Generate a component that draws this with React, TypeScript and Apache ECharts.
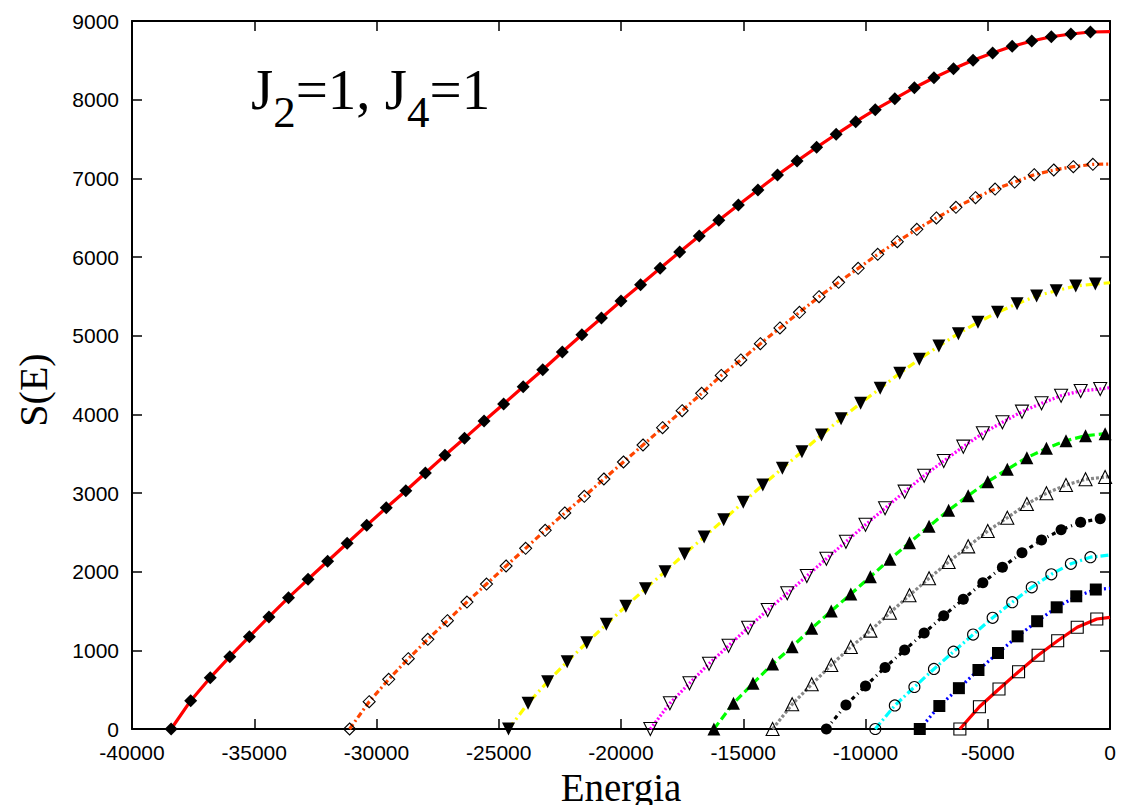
import React, { useEffect, useRef } from 'react';
import * as echarts from 'echarts';

// Energy (x) and entropy S(E) (y), one pair of arrays per curve.
const E1 = [-38400, -37600, -36800, -36000, -35200, -34400, -33600, -32800, -32000, -31200, -30400, -29600, -28800, -28000, -27200, -26400, -25600, -24800, -24000, -23200, -22400, -21600, -20800, -20000, -19200, -18400, -17600, -16800, -16000, -15200, -14400, -13600, -12800, -12000, -11200, -10400, -9600, -8800, -8000, -7200, -6400, -5600, -4800, -4000, -3200, -2400, -1600, -800, 0];
const S1 = [0, 360, 652, 919, 1173, 1424, 1669, 1903, 2132, 2361, 2589, 2813, 3029, 3254, 3479, 3695, 3915, 4131, 4351, 4567, 4792, 5012, 5225, 5441, 5648, 5856, 6064, 6267, 6467, 6661, 6852, 7042, 7220, 7394, 7560, 7720, 7873, 8012, 8152, 8279, 8394, 8500, 8593, 8678, 8746, 8800, 8835, 8860, 8865];

const E2 = [-31100, -30300, -29500, -28700, -27900, -27100, -26300, -25500, -24700, -23900, -23100, -22300, -21500, -20700, -19900, -19100, -18300, -17500, -16700, -15900, -15100, -14300, -13500, -12700, -11900, -11100, -10300, -9500, -8700, -7900, -7100, -6300, -5500, -4700, -3900, -3100, -2300, -1500, -700, 0];
const S2 = [0, 347, 632, 894, 1140, 1377, 1614, 1843, 2072, 2297, 2526, 2746, 2958, 3178, 3394, 3610, 3830, 4046, 4267, 4494, 4691, 4898, 5098, 5297, 5495, 5678, 5856, 6034, 6195, 6352, 6496, 6632, 6754, 6864, 6953, 7046, 7106, 7148, 7178, 7182];

const E3 = [-24600, -23800, -23000, -22200, -21400, -20600, -19800, -19000, -18200, -17400, -16600, -15800, -15000, -14200, -13400, -12600, -11800, -11000, -10200, -9400, -8600, -7800, -7000, -6200, -5400, -4600, -3800, -3000, -2200, -1400, -600, 0];
const S3 = [0, 327, 601, 856, 1097, 1331, 1560, 1784, 2000, 2225, 2441, 2661, 2882, 3102, 3314, 3525, 3737, 3945, 4140, 4331, 4522, 4700, 4869, 5025, 5170, 5297, 5406, 5504, 5572, 5631, 5657, 5673];

const E4 = [-18800, -18000, -17200, -16400, -15600, -14800, -14000, -13200, -12400, -11600, -10800, -10000, -9200, -8400, -7600, -6800, -6000, -5200, -4400, -3600, -2800, -2000, -1200, -400, 0];
const S4 = [0, 327, 581, 830, 1059, 1288, 1513, 1725, 1945, 2165, 2381, 2597, 2806, 3017, 3220, 3407, 3589, 3759, 3899, 4034, 4140, 4237, 4297, 4322, 4339];

const E5 = [-16200, -15400, -14600, -13800, -13000, -12200, -11400, -10600, -9800, -9000, -8200, -7400, -6600, -5800, -5000, -4200, -3400, -2600, -1800, -1000, -200, 0];
const S5 = [0, 327, 581, 826, 1046, 1280, 1500, 1716, 1936, 2157, 2368, 2577, 2780, 2966, 3144, 3301, 3449, 3568, 3665, 3728, 3754, 3756];

const E6 = [-13800, -13000, -12200, -11400, -10600, -9800, -9000, -8200, -7400, -6600, -5800, -5000, -4200, -3400, -2600, -1800, -1000, -200, 0];
const S6 = [0, 314, 568, 814, 1042, 1250, 1478, 1700, 1916, 2123, 2322, 2517, 2686, 2860, 2996, 3102, 3174, 3203, 3210];

const E7 = [-11600, -10800, -10000, -9200, -8400, -7600, -6800, -6000, -5200, -4400, -3600, -2800, -2000, -1200, -400, 0];
const S7 = [0, 305, 547, 782, 1004, 1220, 1439, 1650, 1860, 2057, 2241, 2403, 2532, 2628, 2673, 2685];

const E8 = [-9600, -8800, -8000, -7200, -6400, -5600, -4800, -4000, -3200, -2400, -1600, -800, 0];
const S8 = [0, 299, 534, 763, 983, 1201, 1414, 1612, 1801, 1967, 2100, 2184, 2212];

const E9 = [-7780, -6980, -6180, -5380, -4580, -3780, -2980, -2180, -1380, -580, 0];
const S9 = [0, 292, 519, 750, 966, 1178, 1370, 1547, 1687, 1773, 1789];

const E10 = [-6140, -5340, -4540, -3740, -2940, -2140, -1340, -540, 0];
const S10 = [0, 283, 508, 728, 937, 1122, 1293, 1398, 1420];

const X_TICKS = { min: -40000, max: 0, interval: 5000 };
const Y_TICKS = { min: 0, max: 9000, interval: 1000 };

const CURVES = [
  { E: E1, S: S1, color: '#ff0000', dash: 'solid', symbol: 'diamond', rotate: 0, filled: true, size: 13 },
  { E: E2, S: S2, color: '#ff4500', dash: [6, 3, 2, 3], symbol: 'diamond', rotate: 0, filled: false, size: 12 },
  { E: E3, S: S3, color: '#ffff00', dash: [8, 4, 2, 4], symbol: 'triangle', rotate: 180, filled: true, size: 13 },
  { E: E4, S: S4, color: '#ff00ff', dash: [2, 2], symbol: 'triangle', rotate: 180, filled: false, size: 13 },
  { E: E5, S: S5, color: '#00ff00', dash: [8, 4], symbol: 'triangle', rotate: 0, filled: true, size: 13 },
  { E: E6, S: S6, color: '#888888', dash: [3, 2], symbol: 'triangle', rotate: 0, filled: false, size: 13 },
  { E: E7, S: S7, color: '#000000', dash: [4, 4, 1, 4], symbol: 'circle', rotate: 0, filled: true, size: 11 },
  { E: E8, S: S8, color: '#00ffff', dash: [8, 3, 2, 3], symbol: 'circle', rotate: 0, filled: false, size: 11 },
  { E: E9, S: S9, color: '#0000ff', dash: [2, 3], symbol: 'rect', rotate: 0, filled: true, size: 12 },
  { E: E10, S: S10, color: '#ff0000', dash: 'solid', symbol: 'rect', rotate: 0, filled: false, size: 12 },
];

function buildSeries() {
  return CURVES.map((c) => ({
    type: 'line',
    xAxisIndex: 0,
    yAxisIndex: 0,
    smooth: false,
    silent: true,
    symbol: c.symbol,
    symbolSize: c.size,
    symbolRotate: c.rotate,
    showAllSymbol: true,
    lineStyle: { color: c.color, width: 3.2, type: c.dash as any },
    itemStyle: c.filled
      ? { color: '#000', borderWidth: 0 }
      : { color: 'rgba(0,0,0,0)', borderColor: '#000', borderWidth: 1.1 },
    emphasis: { disabled: true },
    data: c.E.map((e, i) =>
      e === 0 ? { value: [e, c.S[i]], symbol: 'none' } : [e, c.S[i]]
    ),
  }));
}

const tick = { show: true, inside: true, length: 10, lineStyle: { color: '#000', width: 1.5 } };
const line = { show: true, onZero: false, lineStyle: { color: '#000', width: 2 } };

export default function App() {
  const ref = useRef<HTMLDivElement>(null);
  useEffect(() => {
    const chart = echarts.init(ref.current!, null, { renderer: 'svg' });
    chart.setOption({
      animation: false,
      backgroundColor: '#ffffff',
      grid: { left: 132, right: 15, top: 21, bottom: 76, containLabel: false, outerBoundsMode: 'none' },
      xAxis: [
        {
          type: 'value', ...X_TICKS, position: 'bottom',
          axisLine: line, axisTick: tick, splitLine: { show: false },
          axisLabel: { color: '#000', fontSize: 21, fontFamily: 'Liberation Sans', margin: 13, formatter: (v: number) => String(v) },
          name: 'Energia', nameLocation: 'middle', nameGap: 36,
          nameTextStyle: { fontFamily: 'Liberation Serif', fontSize: 39, color: '#000' },
        },
        {
          type: 'value', ...X_TICKS, position: 'top',
          axisLine: line, axisTick: tick, splitLine: { show: false }, axisLabel: { show: false },
        },
      ],
      yAxis: [
        {
          type: 'value', ...Y_TICKS, position: 'left',
          axisLine: line, axisTick: tick, splitLine: { show: false },
          axisLabel: { color: '#000', fontSize: 21, fontFamily: 'Liberation Sans', margin: 13, formatter: (v: number) => String(v) },
        },
        {
          type: 'value', ...Y_TICKS, position: 'right',
          axisLine: line, axisTick: tick, splitLine: { show: false }, axisLabel: { show: false },
        },
      ],
      graphic: [
        {
          type: 'text', x: 33, y: 390, rotation: Math.PI / 2,
          style: { text: 'S(E)', fontFamily: 'Liberation Serif', fontSize: 40, fill: '#000', align: 'center', verticalAlign: 'middle' },
        },
        {
          type: 'text', x: 251, y: 58,
          style: {
            text: '{a|J}{b|2}{a|=1, J}{b|4}{a|=1}',
            rich: {
              a: { fontFamily: 'Liberation Serif', fontSize: 57, lineHeight: 62, fill: '#000' },
              b: { fontFamily: 'Liberation Serif', fontSize: 45, lineHeight: 46, padding: [46, 0, 0, 0], fill: '#000' },
            },
          },
        },
      ],
      series: buildSeries(),
    });
    return () => chart.dispose();
  }, []);
  return (
    <div
      ref={ref}
      style={{ position: 'fixed', left: 0, top: 0, width: 1125, height: 805, background: '#fff' }}
    />
  );
}
